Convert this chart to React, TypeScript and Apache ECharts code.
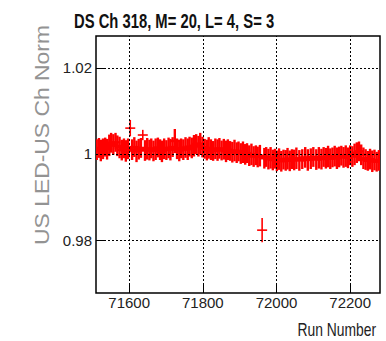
import React, { useEffect, useRef } from "react";
import * as echarts from "echarts";

const titleText = "DS Ch 318, M= 20, L= 4, S= 3";
const yTitle = "US LED-US Ch Norm";
const xTitle = "Run Number";

const xTicks = [71600, 71800, 72000, 72200];
const yTicks = [0.98, 1.0, 1.02];
const xRange = [71510, 72281];
const yRange = [0.9677, 1.0274];

// [run, value, error]
const mainPoints: [number, number, number][] = [
  [71512, 1.0010, 0.0024], [71518, 1.0014, 0.0023], [71523, 1.0008, 0.0025], [71529, 1.0012, 0.0024],
  [71535, 1.0016, 0.0022], [71540, 1.0011, 0.0024], [71546, 1.0020, 0.0025], [71551, 1.0026, 0.0023],
  [71557, 1.0022, 0.0024], [71563, 1.0027, 0.0022], [71568, 1.0019, 0.0024], [71574, 1.0015, 0.0025],
  [71580, 1.0009, 0.0024], [71586, 1.0013, 0.0023], [71591, 1.0007, 0.0025], [71597, 1.0012, 0.0024],
  [71608, 1.0010, 0.0024], [71614, 1.0016, 0.0023], [71620, 1.0006, 0.0025], [71626, 1.0011, 0.0024],
  [71632, 1.0014, 0.0023], [71643, 1.0008, 0.0024], [71649, 1.0012, 0.0025], [71655, 1.0009, 0.0024],
  [71660, 1.0013, 0.0023], [71666, 1.0007, 0.0024], [71672, 1.0011, 0.0025], [71678, 1.0015, 0.0023],
  [71684, 1.0010, 0.0024], [71689, 1.0006, 0.0025], [71695, 1.0012, 0.0024], [71701, 1.0009, 0.0023],
  [71707, 1.0014, 0.0024], [71712, 1.0010, 0.0025], [71718, 1.0016, 0.0023], [71724, 1.0030, 0.0028],
  [71730, 1.0012, 0.0024], [71736, 1.0008, 0.0025], [71741, 1.0013, 0.0023], [71747, 1.0010, 0.0024],
  [71753, 1.0015, 0.0024], [71759, 1.0011, 0.0025], [71764, 1.0017, 0.0023], [71770, 1.0014, 0.0024],
  [71776, 1.0019, 0.0025], [71782, 1.0023, 0.0023], [71788, 1.0018, 0.0024], [71793, 1.0024, 0.0025],
  [71799, 1.0016, 0.0024], [71805, 1.0012, 0.0023], [71811, 1.0009, 0.0024], [71816, 1.0014, 0.0025],
  [71822, 1.0010, 0.0024], [71828, 1.0007, 0.0023], [71834, 1.0012, 0.0024], [71840, 1.0009, 0.0025],
  [71845, 1.0013, 0.0024], [71851, 1.0008, 0.0023], [71857, 1.0011, 0.0024], [71863, 1.0006, 0.0025],
  [71868, 1.0010, 0.0024], [71874, 1.0007, 0.0023], [71880, 1.0004, 0.0024], [71886, 1.0008, 0.0025],
  [71892, 1.0003, 0.0024], [71897, 1.0006, 0.0023], [71903, 1.0001, 0.0024], [71909, 1.0004, 0.0025],
  [71915, 0.9999, 0.0024], [71920, 1.0002, 0.0023], [71926, 0.9996, 0.0024], [71932, 0.9999, 0.0025],
  [71938, 0.9994, 0.0024], [71944, 0.9997, 0.0023], [71949, 0.9993, 0.0024], [71955, 0.9996, 0.0025],
  [71967, 0.9990, 0.0024], [71972, 0.9993, 0.0023], [71978, 0.9988, 0.0024], [71984, 0.9991, 0.0025],
  [71990, 0.9986, 0.0024], [71996, 0.9989, 0.0023], [72001, 0.9984, 0.0024], [72007, 0.9988, 0.0025],
  [72013, 0.9983, 0.0024], [72019, 0.9987, 0.0023], [72025, 0.9985, 0.0024], [72030, 0.9989, 0.0025],
  [72036, 0.9984, 0.0024], [72042, 0.9988, 0.0023], [72048, 0.9986, 0.0024], [72054, 0.9990, 0.0025],
  [72062, 0.9985, 0.0024], [72070, 0.9988, 0.0023], [72078, 0.9992, 0.0024], [72085, 0.9986, 0.0025],
  [72093, 0.9989, 0.0024], [72100, 0.9993, 0.0023], [72108, 0.9987, 0.0024], [72115, 0.9991, 0.0025],
  [72122, 0.9988, 0.0024], [72128, 0.9993, 0.0023], [72134, 0.9990, 0.0024], [72140, 0.9994, 0.0025],
  [72146, 0.9989, 0.0024], [72152, 0.9992, 0.0023], [72158, 0.9995, 0.0024], [72164, 0.9990, 0.0025],
  [72170, 0.9993, 0.0024], [72176, 0.9996, 0.0023], [72182, 0.9992, 0.0024], [72188, 0.9995, 0.0025],
  [72194, 0.9991, 0.0024], [72200, 0.9997, 0.0023], [72206, 0.9994, 0.0024], [72212, 0.9999, 0.0025],
  [72218, 1.0003, 0.0024], [72224, 1.0006, 0.0023], [72230, 0.9998, 0.0024], [72236, 0.9990, 0.0025],
  [72242, 0.9987, 0.0024], [72248, 0.9984, 0.0023], [72254, 0.9988, 0.0024], [72260, 0.9983, 0.0025],
  [72266, 0.9986, 0.0024], [72272, 0.9982, 0.0023], [72278, 0.9985, 0.0024],
];

const outlierPoints: [number, number, number][] = [
  [71603, 1.0060, 0.0019],
  [71637, 1.0044, 0.0012],
  [71961, 0.9823, 0.0028],
];

const FONT = "'Liberation Sans', Arial, sans-serif";

export default function App() {
  const ref = useRef<HTMLDivElement>(null);
  useEffect(() => {
    if (!ref.current) return;
    const chart = echarts.init(ref.current, undefined, { renderer: "svg" });

    const makeRenderItem = (width: number) => (params: any, api: any) => {
      const x = api.value(0);
      const y = api.value(1);
      const e = api.value(2);
      const c = api.coord([x, y]);
      const t = api.coord([x, y + e]);
      const b = api.coord([x, y - e]);
      const style = { stroke: "#ff0000", lineWidth: width };
      return {
        type: "group",
        children: [
          { type: "line", shape: { x1: c[0] - 5, y1: c[1], x2: c[0] + 5, y2: c[1] }, style },
          { type: "line", shape: { x1: c[0], y1: t[1], x2: c[0], y2: b[1] }, style },
        ],
      };
    };

    chart.setOption({
      animation: false,
      backgroundColor: "#ffffff",
      graphic: [
        {
          type: "text",
          x: 74,
          y: 21,
          scaleX: 0.74,
          style: {
            text: titleText,
            fontFamily: FONT,
            fontSize: 20,
            fontWeight: "bold",
            fill: "#111",
            textAlign: "left",
            textVerticalAlign: "middle",
          },
        },
        {
          type: "text",
          x: 42,
          y: 135,
          rotation: Math.PI / 2,
          scaleX: 1.09,
          style: {
            text: yTitle,
            fontFamily: FONT,
            fontSize: 21,
            fill: "#939393",
            textAlign: "center",
            textVerticalAlign: "middle",
          },
        },
        {
          type: "text",
          x: 376,
          y: 329,
          scaleX: 0.77,
          style: {
            text: xTitle,
            fontFamily: FONT,
            fontSize: 18,
            fill: "#222",
            textAlign: "right",
            textVerticalAlign: "middle",
          },
        },
      ],
      grid: {
        left: 96,
        right: 6,
        top: 36,
        bottom: 48,
        show: true,
        borderColor: "#000",
        borderWidth: 1.5,
        backgroundColor: "transparent",
      },
      xAxis: {
        type: "value",
        min: xRange[0],
        max: xRange[1],
        axisLine: { show: false },
        splitLine: { show: false },
        axisTick: { show: true, inside: true, length: 8, customValues: xTicks, lineStyle: { color: "#000", width: 1 } },
        axisLabel: {
          customValues: xTicks,
          margin: 2,
          fontFamily: FONT,
          fontSize: 15,
          color: "#222",
          formatter: (v: number) => String(v),
        },
      },
      yAxis: {
        type: "value",
        min: yRange[0],
        max: yRange[1],
        axisLine: { show: false },
        splitLine: { show: false },
        axisTick: { show: true, inside: true, length: 8, customValues: yTicks, lineStyle: { color: "#000", width: 1 } },
        axisLabel: {
          customValues: yTicks,
          margin: 4,
          fontFamily: FONT,
          fontSize: 15,
          color: "#222",
          formatter: (v: number) => (Math.abs(v - 1) < 1e-9 ? "1" : String(Number(v.toFixed(2)))),
        },
      },
      series: [
        {
          type: "scatter",
          data: [[xRange[0], yRange[0]]],
          symbolSize: 0,
          silent: true,
          z: 1,
          markLine: {
            silent: true,
            symbol: "none",
            label: { show: false },
            lineStyle: { color: "#000", width: 1, type: [2, 2] },
            data: [...xTicks.map((v) => ({ xAxis: v })), ...yTicks.map((v) => ({ yAxis: v }))],
          },
        },
        {
          type: "custom",
          renderItem: makeRenderItem(2.4),
          data: mainPoints,
          encode: { x: 0, y: 1 },
          clip: true,
          z: 3,
        },
        {
          type: "custom",
          renderItem: makeRenderItem(1.6),
          data: outlierPoints,
          encode: { x: 0, y: 1 },
          clip: true,
          z: 4,
        },
      ],
    });
    return () => chart.dispose();
  }, []);
  return <div ref={ref} style={{ position: "fixed", left: 0, top: 0, width: 386, height: 341 }} />;
}
